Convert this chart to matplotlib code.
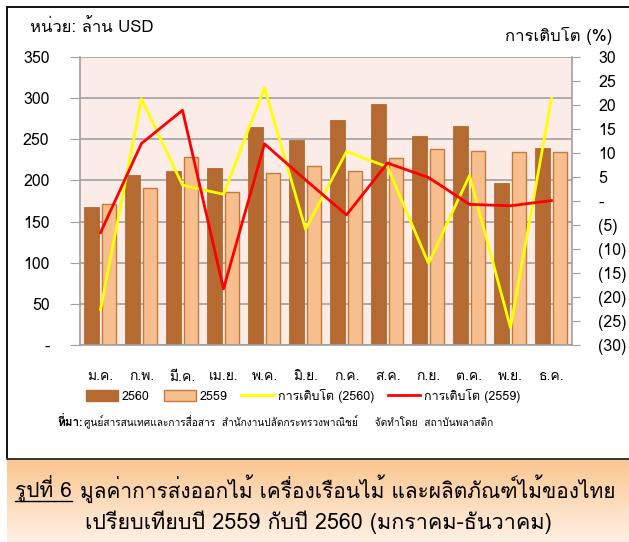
import numpy as np
import matplotlib
matplotlib.use('Agg')
import matplotlib.pyplot as plt
from matplotlib import font_manager, ft2font
from matplotlib.lines import Line2D
from matplotlib.patches import Rectangle

months = ['ม.ค.', 'ก.พ.', 'มี.ค.', 'เม.ย.', 'พ.ค.', 'มิ.ย.', 'ก.ค.', 'ส.ค.', 'ก.ย.', 'ต.ค.', 'พ.ย.', 'ธ.ค.']
value_2560 = [168, 206, 211, 215, 265, 249, 274, 293, 254, 266, 197, 240]
value_2559 = [171, 191, 229, 186, 209, 218, 211, 227, 238, 236, 234, 234]
growth_2560 = [-22.6, 21.3, 3.3, 1.4, 23.6, -5.9, 10.3, 7.1, -13.0, 5.3, -26.4, 21.4]
growth_2559 = [-6.6, 12.0, 18.9, -18.3, 11.9, 4.4, -2.9, 7.9, 4.9, -0.7, -1.0, 0.1]


def find_thai_font():
    # look for any installed font that has Thai glyphs
    for f in font_manager.fontManager.ttflist:
        try:
            if 0x0E01 in ft2font.FT2Font(f.fname).get_charmap():
                return f.name
        except Exception:
            pass
    return None


thai = find_thai_font()
fams = [thai, 'DejaVu Sans'] if thai else ['DejaVu Sans']
plt.rcParams['font.family'] = fams

W, H = 629, 542
fig = plt.figure(figsize=(W / 100, H / 100), dpi=100)

# outer frame
fig.patches.append(Rectangle((7 / W, 83 / H), 640 / W, (H - 90) / H, transform=fig.transFigure,
                             fill=False, edgecolor='black', linewidth=1.3, zorder=0))

ax = fig.add_axes([80 / W, 1 - 345 / H, 492 / W, 288 / H])
ax.set_facecolor('#FBECE7')
x = np.arange(len(months))
ax.bar(x - 0.22, value_2560, width=0.38, color='#B46A30', edgecolor='#B46A30', linewidth=0.6, zorder=2)
ax.bar(x + 0.2, value_2559, width=0.34, color='#F8BF8E', edgecolor='#C47A3E', linewidth=1.0, zorder=2)
ax.set_xlim(-0.5, 11.5)
ax.set_ylim(0, 350)
ax.set_yticks(range(0, 351, 50))
ax.set_yticklabels(['-' if v == 0 else str(v) for v in range(0, 351, 50)], fontsize=11.5)
ax.yaxis.grid(True, color='#A0A0A0', linewidth=1.2, zorder=0)
ax.set_axisbelow(True)
ax.set_xticks(x)
ax.set_xticklabels(months, fontsize=10)
ax.tick_params(axis='x', length=0, pad=19)
ax.tick_params(axis='y', length=7, color='#A0A0A0', pad=15)
for s in ['left', 'bottom']:
    ax.spines[s].set_color('#A0A0A0')
    ax.spines[s].set_linewidth(1.2)
ax.spines['top'].set_visible(False)
ax.spines['right'].set_visible(False)

ax2 = ax.twinx()
ax2.plot(x, growth_2560, color='#FFFF00', linewidth=2.0, zorder=3)
ax2.plot(x, growth_2559, color='#FF0000', linewidth=2.0, zorder=4)
ax2.set_ylim(-30, 30)
rt = list(range(-30, 31, 5))
ax2.set_yticks(rt)
ax2.set_yticklabels(['-' if v == 0 else ('(%d)' % -v if v < 0 else str(v)) for v in rt], fontsize=11.5)
ax2.tick_params(axis='y', length=6, color='#A0A0A0', pad=13)
for s in ['left', 'bottom', 'top']:
    ax2.spines[s].set_visible(False)
ax2.spines['right'].set_color('#A0A0A0')
ax2.spines['right'].set_linewidth(1.2)

fig.text(30 / W, 1 - 28 / H, 'หน่วย: ล้าน USD', fontsize=12, ha='left', va='center')
fig.text(612 / W, 1 - 36 / H, 'การเติบโต (%)', fontsize=12, ha='right', va='center')

handles = [Rectangle((0, 0), 1, 1, facecolor='#B46A30', edgecolor='#B46A30'),
           Rectangle((0, 0), 1, 1, facecolor='#F8BF8E', edgecolor='#C47A3E'),
           Line2D([], [], color='#FFFF00', linewidth=2.0),
           Line2D([], [], color='#FF0000', linewidth=2.0)]
labels = ['2560', '2559', 'การเติบโต (2560)', 'การเติบโต (2559)']
fig.legend(handles, labels, loc='center', bbox_to_anchor=(303 / W, 1 - 396 / H), ncol=4, frameon=False,
           fontsize=9, handlelength=2.6, handleheight=1.0, handletextpad=0.3, columnspacing=1.1)

lab = fig.text(57 / W, 1 - 421 / H, 'ที่มา:', fontsize=8.5, fontweight='bold', ha='left', va='center')
fig.canvas.draw()
lb = lab.get_window_extent().transformed(fig.transFigure.inverted())
fig.text(lb.x1 + 2 / W, 1 - 421 / H,
         'ศูนย์สารสนเทศและการสื่อสาร  สำนักงานปลัดกระทรวงพาณิชย์     จัดทำโดย  สถาบันพลาสติก',
         fontsize=7.3, ha='left', va='center')

# caption box with orange gradient
cap = fig.add_axes([7 / W, 0, (W - 7) / W, 83 / H])
grad = np.linspace(0, 1, 100).reshape(-1, 1)
top = np.array([251, 198, 143]) / 255
bot = np.array([254, 240, 228]) / 255
img = top + (bot - top) * grad[:, :, None]
cap.imshow(img, aspect='auto', extent=(0, 1, 0, 1))
cap.set_xlim(0, 1)
cap.set_ylim(0, 1)
cap.axis('off')
fig.add_artist(Line2D([7 / W, 1], [83 / H, 83 / H], color='#404040', linewidth=1.2))

t1 = fig.text(15 / W, 1 - 489 / H, 'รูปที่ 6', fontsize=15, ha='left', va='center')
fig.canvas.draw()
bb = t1.get_window_extent().transformed(fig.transFigure.inverted())
fig.add_artist(Line2D([bb.x0, bb.x1], [1 - 501 / H, 1 - 501 / H], color='black', linewidth=1.0))
fig.text(bb.x1 + 8 / W, 1 - 489 / H, 'มูลค่าการส่งออกไม้ เครื่องเรือนไม้ และผลิตภัณฑ์ไม้ของไทย',
         fontsize=15, ha='left', va='center')
fig.text(318 / W, 1 - 522 / H, 'เปรียบเทียบปี 2559 กับปี 2560 (มกราคม-ธันวาคม)', fontsize=15.5, ha='center', va='center')

fig.savefig('out.png', dpi=100)
